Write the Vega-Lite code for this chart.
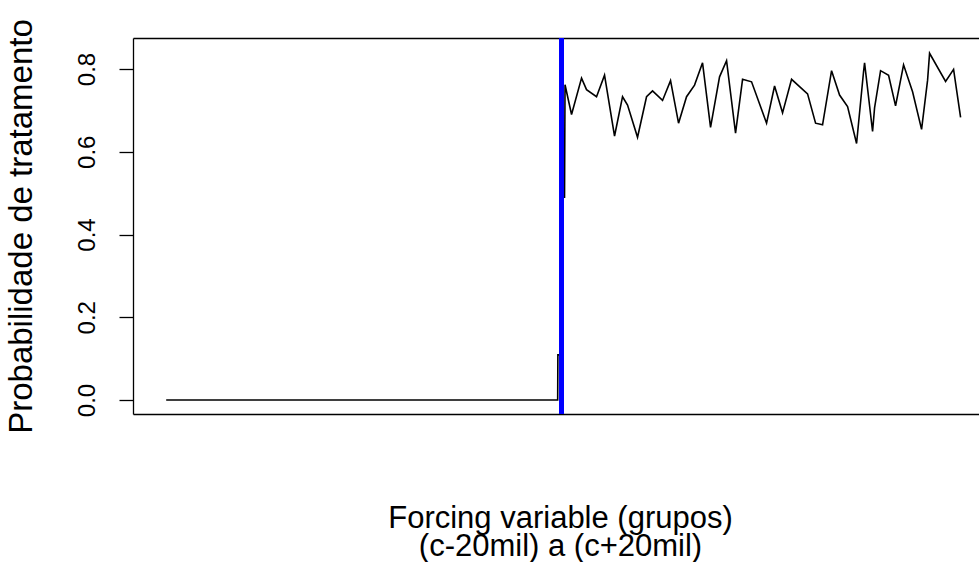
{
  "$schema": "https://vega.github.io/schema/vega-lite/v6.json",
  "width": 846,
  "height": 376,
  "autosize": {"type": "none"},
  "padding": {"left": 133, "top": 38, "right": 0, "bottom": 148},
  "background": "white",
  "config": {
    "view": {"stroke": null},
    "font": "Liberation Sans",
    "axis": {"grid": false, "domainColor": "black", "domainWidth": 1.3, "tickColor": "black", "labelColor": "black", "titleColor": "black", "titleFontWeight": "normal"}
  },
  "data": {
    "values": [
      {"i": 1, "x": -20.0, "p": 0.0},
      {"i": 2, "x": -0.18, "p": 0.0},
      {"i": 3, "x": -0.17, "p": 0.109},
      {"i": 4, "x": -0.05, "p": 0.109},
      {"i": 5, "x": -0.05, "p": 0.49},
      {"i": 6, "x": 0.167, "p": 0.49},
      {"i": 7, "x": 0.192, "p": 0.762},
      {"i": 8, "x": 0.522, "p": 0.69},
      {"i": 9, "x": 1.028, "p": 0.778},
      {"i": 10, "x": 1.281, "p": 0.75},
      {"i": 11, "x": 1.787, "p": 0.733},
      {"i": 12, "x": 2.192, "p": 0.785},
      {"i": 13, "x": 2.699, "p": 0.638},
      {"i": 14, "x": 3.104, "p": 0.733},
      {"i": 15, "x": 3.357, "p": 0.713},
      {"i": 16, "x": 3.863, "p": 0.635},
      {"i": 17, "x": 4.319, "p": 0.733},
      {"i": 18, "x": 4.623, "p": 0.747},
      {"i": 19, "x": 5.129, "p": 0.724},
      {"i": 20, "x": 5.534, "p": 0.772},
      {"i": 21, "x": 5.939, "p": 0.669},
      {"i": 22, "x": 6.344, "p": 0.733},
      {"i": 23, "x": 6.749, "p": 0.761},
      {"i": 24, "x": 7.154, "p": 0.815},
      {"i": 25, "x": 7.559, "p": 0.659},
      {"i": 26, "x": 8.015, "p": 0.781},
      {"i": 27, "x": 8.37, "p": 0.82},
      {"i": 28, "x": 8.825, "p": 0.645},
      {"i": 29, "x": 9.18, "p": 0.775},
      {"i": 30, "x": 9.635, "p": 0.769},
      {"i": 31, "x": 10.395, "p": 0.669},
      {"i": 32, "x": 10.8, "p": 0.759},
      {"i": 33, "x": 11.205, "p": 0.694},
      {"i": 34, "x": 11.661, "p": 0.775},
      {"i": 35, "x": 12.471, "p": 0.74},
      {"i": 36, "x": 12.876, "p": 0.669},
      {"i": 37, "x": 13.23, "p": 0.665},
      {"i": 38, "x": 13.686, "p": 0.796},
      {"i": 39, "x": 14.091, "p": 0.737},
      {"i": 40, "x": 14.496, "p": 0.709},
      {"i": 41, "x": 14.952, "p": 0.62},
      {"i": 42, "x": 15.306, "p": 0.794},
      {"i": 43, "x": 15.357, "p": 0.815},
      {"i": 44, "x": 15.762, "p": 0.649},
      {"i": 45, "x": 15.863, "p": 0.706},
      {"i": 46, "x": 16.167, "p": 0.796},
      {"i": 47, "x": 16.572, "p": 0.785},
      {"i": 48, "x": 16.926, "p": 0.711},
      {"i": 49, "x": 17.331, "p": 0.81},
      {"i": 50, "x": 17.787, "p": 0.745},
      {"i": 51, "x": 18.243, "p": 0.654},
      {"i": 52, "x": 18.547, "p": 0.773},
      {"i": 53, "x": 18.648, "p": 0.838},
      {"i": 54, "x": 19.458, "p": 0.77},
      {"i": 55, "x": 19.863, "p": 0.799},
      {"i": 56, "x": 20.218, "p": 0.683}
    ]
  },
  "layer": [
    {
      "mark": {"type": "line", "color": "black", "strokeWidth": 1.6, "interpolate": "linear"},
      "encoding": {
        "x": {
          "field": "x", "type": "quantitative",
          "scale": {"domain": [-21.68, 21.15], "nice": false, "zero": false},
          "axis": {
            "orient": "bottom", "labels": false, "ticks": false, "domain": true,
            "title": ["Forcing variable (grupos)", "(c-20mil) a (c+20mil)"],
            "titleFontSize": 31, "titleLineHeight": 28, "titleBaseline": "alphabetic",
            "titleAlign": "center", "titleX": 427, "titleY": 113
          }
        },
        "y": {
          "field": "p", "type": "quantitative",
          "scale": {"domain": [-0.0338, 0.8749], "nice": false, "zero": false},
          "axis": {
            "values": [0, 0.2, 0.4, 0.6, 0.8], "format": ".1f",
            "tickSize": 14, "tickWidth": 1.3,
            "labelAngle": -90, "labelAlign": "center", "labelBaseline": "alphabetic",
            "labelPadding": 25, "labelFontSize": 24,
            "title": "Probabilidade de tratamento", "titleFontSize": 33,
            "titleAngle": -90, "titleBaseline": "alphabetic", "titleX": -102
          }
        },
        "order": {"field": "i", "type": "quantitative"}
      }
    },
    {
      "mark": {"type": "rule", "color": "#0000FF", "strokeWidth": 4},
      "encoding": {
        "x": {"datum": 0, "type": "quantitative", "axis": {"orient": "top", "labels": false, "ticks": false, "domain": true, "title": null}}
      }
    }
  ],
  "resolve": {"axis": {"x": "independent"}}
}
